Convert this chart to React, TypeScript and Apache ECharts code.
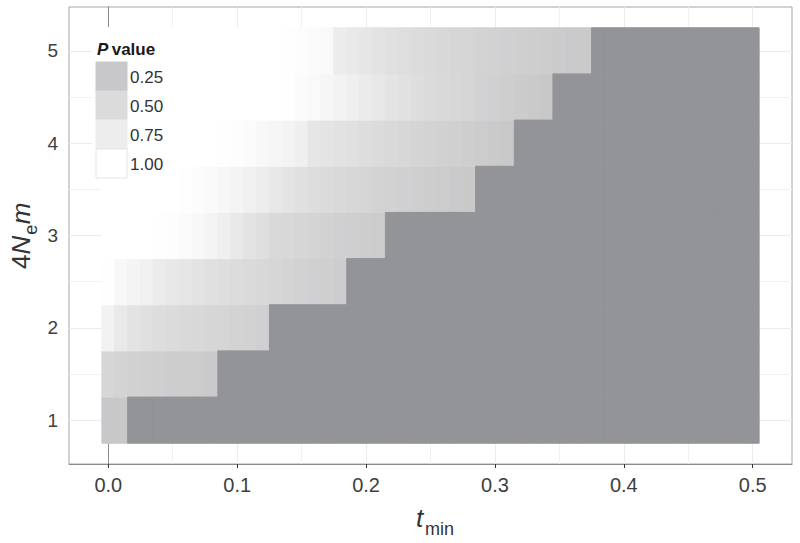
import { useEffect, useRef } from "react";
import * as echarts from "echarts";

// t_min values (columns)
const tValues = [
  0.0, 0.01, 0.02, 0.03, 0.04, 0.05, 0.06, 0.07, 0.08, 0.09,
  0.1, 0.11, 0.12, 0.13, 0.14, 0.15, 0.16, 0.17, 0.18, 0.19,
  0.2, 0.21, 0.22, 0.23, 0.24, 0.25, 0.26, 0.27, 0.28, 0.29,
  0.3, 0.31, 0.32, 0.33, 0.34, 0.35, 0.36, 0.37, 0.38, 0.39,
  0.4, 0.41, 0.42, 0.43, 0.44, 0.45, 0.46, 0.47, 0.48, 0.49, 0.5,
];

// 4Nem values (rows)
const migrationRates = [1, 1.5, 2, 2.5, 3, 3.5, 4, 4.5, 5];

// P values per row, from t = 0.00 upward; columns beyond each list are NA (dark)
const pRow1 = [0.25, 0.24];
const pRow1_5 = [0.44, 0.4, 0.37, 0.35, 0.34, 0.32, 0.31, 0.3, 0.28];
const pRow2 = [0.82, 0.7, 0.61, 0.57, 0.54, 0.51, 0.48, 0.46, 0.44, 0.42, 0.4, 0.38, 0.36];
const pRow2_5 = [0.98, 0.91, 0.85, 0.79, 0.74, 0.69, 0.66, 0.62, 0.58, 0.55, 0.52, 0.49, 0.47, 0.44, 0.41, 0.38, 0.36, 0.34, 0.32];
const pRow3 = [1, 1, 1, 1, 0.99, 0.97, 0.94, 0.9, 0.85, 0.78, 0.7, 0.62, 0.56, 0.48, 0.46, 0.44, 0.41, 0.38, 0.36, 0.34, 0.32, 0.3];
const pRow3_5 = [1, 1, 1, 1, 1, 1, 0.98, 0.96, 0.93, 0.89, 0.85, 0.8, 0.75, 0.68, 0.63, 0.58, 0.54, 0.51, 0.48, 0.45, 0.42, 0.4, 0.38, 0.36, 0.34, 0.32, 0.3, 0.28, 0.26];
const pRow4 = [1, 1, 1, 1, 1, 1, 1, 1, 1, 0.99, 0.97, 0.94, 0.91, 0.87, 0.83, 0.78, 0.66, 0.63, 0.6, 0.57, 0.54, 0.51, 0.48, 0.45, 0.42, 0.4, 0.37, 0.35, 0.33, 0.3, 0.28, 0.26];
const pRow4_5 = [1, 1, 1, 1, 1, 1, 1, 1, 1, 1, 1, 1, 1, 1, 0.98, 0.95, 0.92, 0.88, 0.83, 0.78, 0.73, 0.68, 0.63, 0.59, 0.55, 0.51, 0.48, 0.45, 0.42, 0.39, 0.36, 0.33, 0.3, 0.27, 0.24];
const pRow5 = [1, 1, 1, 1, 1, 1, 1, 1, 1, 1, 1, 1, 1, 1, 0.99, 0.97, 0.95, 0.92, 0.74, 0.7, 0.66, 0.62, 0.58, 0.55, 0.52, 0.49, 0.46, 0.44, 0.42, 0.4, 0.38, 0.36, 0.34, 0.33, 0.31, 0.3, 0.28, 0.27];
const pRows = [pRow1, pRow1_5, pRow2, pRow2_5, pRow3, pRow3_5, pRow4, pRow4_5, pRow5];

// axis breaks
const xBreaks = [0, 0.1, 0.2, 0.3, 0.4, 0.5];
const xMinorBreaks = [0.05, 0.15, 0.25, 0.35, 0.45];
const yBreaks = [1, 2, 3, 4, 5];
const yMinorBreaks = [1.5, 2.5, 3.5, 4.5];
const legendBreaks = [0.25, 0.5, 0.75, 1.0];

const LOW = "#b6b6b8";
const HIGH = "#ffffff";
const NA_COLOR = "#939498";
const FONT = "'Liberation Sans', Arial, Helvetica, sans-serif";
const TITLE_COLOR = "#333333";

const fillFor = (p: number) => echarts.color.lerp(Math.max(0, Math.min(1, p)), [LOW, HIGH]) as string;

const titleText = (text: string, x: number, y: number, size: number, italic: boolean) => ({
  type: "text",
  x,
  y,
  z: 20,
  style: {
    text,
    fontFamily: FONT,
    fontSize: size,
    fontStyle: italic ? "italic" : "normal",
    fill: TITLE_COLOR,
    verticalAlign: "middle",
    align: "left",
  },
});

export default function App() {
  const ref = useRef<HTMLDivElement>(null);

  useEffect(() => {
    if (!ref.current) return;
    const chart = echarts.init(ref.current, undefined, { renderer: "svg" });

    const halfW = (tValues[1] - tValues[0]) / 2;
    const halfH = (migrationRates[1] - migrationRates[0]) / 2;
    const xLo = tValues[0] - halfW;
    const xHi = tValues[tValues.length - 1] + halfW;
    const yLo = migrationRates[0] - halfH;
    const yHi = migrationRates[migrationRates.length - 1] + halfH;
    const xPad = (xHi - xLo) * 0.05;
    const yPad = (yHi - yLo) * 0.05;

    const pData: number[][] = [];
    const naData: number[][] = [];
    migrationRates.forEach((m, i) => {
      const row = pRows[i];
      tValues.forEach((t, j) => {
        if (j < row.length) pData.push([t, m, row[j]]);
        else naData.push([t, m]);
      });
    });

    const cell = (api: any, color: string) => {
      const x = api.value(0);
      const y = api.value(1);
      const tl = api.coord([x - halfW, y + halfH]);
      const br = api.coord([x + halfW, y - halfH]);
      return {
        type: "rect",
        shape: { x: tl[0], y: tl[1], width: br[0] - tl[0], height: br[1] - tl[1] },
        style: { fill: color, stroke: color, lineWidth: 1 },
      };
    };

    const graphics: any[] = [
      { type: "rect", shape: { x: 92, y: 36, width: 82, height: 147 }, style: { fill: "#ffffff" }, z: 10 },
      {
        type: "text",
        x: 97,
        y: 49,
        z: 11,
        style: {
          text: "{p|P} {v|value}",
          verticalAlign: "middle",
          rich: {
            p: { fontFamily: FONT, fontSize: 17, fontWeight: "bold", fontStyle: "italic", fill: "#1a1a1a" },
            v: { fontFamily: FONT, fontSize: 17, fontWeight: "bold", fill: "#1a1a1a" },
          },
        },
      },
      // x-axis title: t_min
      titleText("t", 416, 518, 26, true),
      titleText("min", 425, 529, 18, false),
      // y-axis title: 4N_e m (rotated)
      {
        type: "group",
        x: 30,
        y: 269,
        rotation: Math.PI / 2,
        z: 20,
        children: [
          titleText("4", 0, -9, 26, false),
          titleText("N", 14.5, -9, 26, true),
          titleText("e", 34.3, 1, 18, false),
          titleText("m", 44.8, -9, 26, true),
        ],
      },
    ];
    legendBreaks.forEach((b, i) => {
      graphics.push({
        type: "rect",
        z: 11,
        shape: { x: 96, y: 62 + i * 29, width: 31, height: 29 },
        style: {
          fill: fillFor(b),
          stroke: b >= 1 ? "#e4e4e4" : fillFor(b),
          lineWidth: 1,
        },
      });
      graphics.push({
        type: "text",
        z: 12,
        x: 130,
        y: 77 + i * 29,
        style: {
          text: b.toFixed(2),
          fontFamily: FONT,
          fontSize: 17,
          fill: "#333333",
          verticalAlign: "middle",
        },
      });
    });

    chart.setOption({
      animation: false,
      backgroundColor: "#ffffff",
      grid: {
        left: 69,
        right: 8,
        top: 7,
        bottom: 79,
        show: true,
        borderColor: "#a6a6a6",
        borderWidth: 1,
        backgroundColor: "transparent",
        containLabel: false,
        outerBoundsMode: "none",
      },
      xAxis: [
        {
          type: "value",
          min: xLo - xPad,
          max: xHi + xPad,
          position: "bottom",
          axisLine: { show: true, lineStyle: { color: "#8c8c8c", width: 1 } },
          axisTick: { show: true, customValues: xBreaks, length: 4, lineStyle: { color: "#333333", width: 1 } },
          axisLabel: {
            show: true,
            customValues: xBreaks,
            formatter: (v: number) => v.toFixed(1),
            fontFamily: FONT,
            fontSize: 20,
            color: "#404040",
            margin: 11,
          },
          splitLine: { show: true, lineStyle: { color: "#ebebeb", width: 1 } },
        },
        {
          type: "value",
          min: xLo - xPad,
          max: xHi + xPad,
          axisLine: { show: false },
          axisTick: { show: false, customValues: xMinorBreaks },
          axisLabel: { show: false, customValues: xMinorBreaks },
          splitLine: { show: true, lineStyle: { color: "#f1f1f1", width: 1 } },
        },
      ],
      yAxis: [
        {
          type: "value",
          min: yLo - yPad,
          max: yHi + yPad,
          position: "left",
          axisLine: { show: true, lineStyle: { color: "#8c8c8c", width: 1 } },
          axisTick: { show: true, customValues: yBreaks, length: 4, lineStyle: { color: "#333333", width: 1 } },
          axisLabel: {
            show: true,
            customValues: yBreaks,
            formatter: (v: number) => String(v),
            fontFamily: FONT,
            fontSize: 19,
            color: "#404040",
            margin: 11,
          },
          splitLine: { show: true, lineStyle: { color: "#ebebeb", width: 1 } },
        },
        {
          type: "value",
          min: yLo - yPad,
          max: yHi + yPad,
          axisLine: { show: false },
          axisTick: { show: false, customValues: yMinorBreaks },
          axisLabel: { show: false, customValues: yMinorBreaks },
          splitLine: { show: true, lineStyle: { color: "#f1f1f1", width: 1 } },
        },
      ],
      series: [
        {
          name: "P value",
          type: "custom",
          xAxisIndex: 0,
          yAxisIndex: 0,
          dimensions: ["t", "m", "p"],
          encode: { x: 0, y: 1 },
          data: pData,
          renderItem: (_params: any, api: any) => cell(api, fillFor(api.value(2))),
          z: 2,
        },
        {
          name: "NA",
          type: "custom",
          xAxisIndex: 0,
          yAxisIndex: 0,
          dimensions: ["t", "m"],
          encode: { x: 0, y: 1 },
          data: naData,
          renderItem: (_params: any, api: any) => cell(api, NA_COLOR),
          z: 2,
        },
      ],
      graphic: graphics,
    });

    return () => chart.dispose();
  }, []);

  return (
    <div
      ref={ref}
      style={{ position: "fixed", left: 0, top: 0, width: 800, height: 543, background: "#fff" }}
    />
  );
}
